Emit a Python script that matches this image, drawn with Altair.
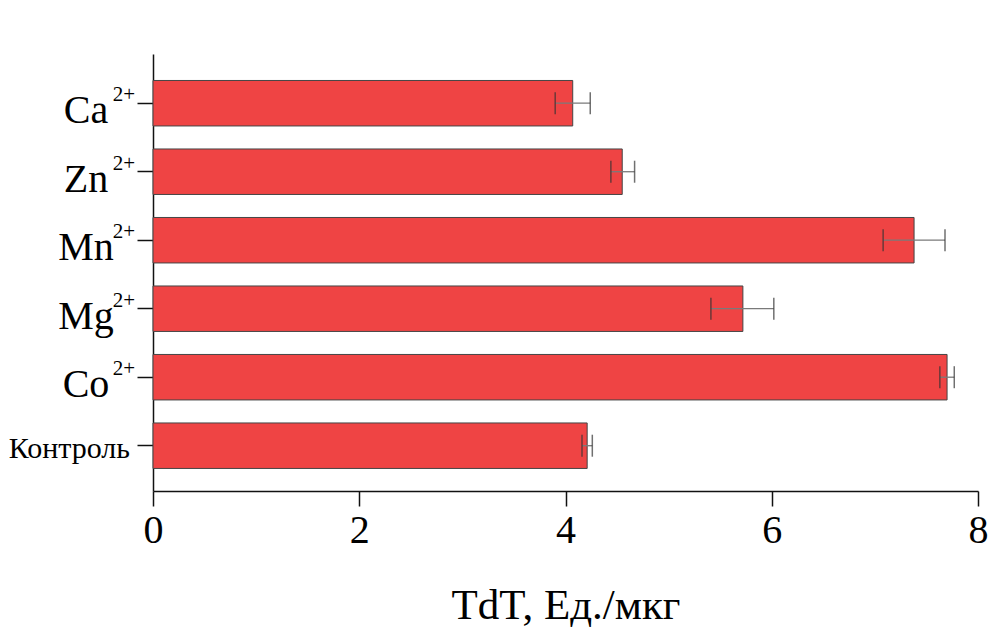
import altair as alt
import pandas as pd

categories = ["Ca", "Zn", "Mn", "Mg", "Co", "Контроль"]
values = [4.07, 4.55, 7.38, 5.72, 7.70, 4.21]
err_lo = [3.90, 4.44, 7.08, 5.41, 7.63, 4.16]
err_hi = [4.24, 4.67, 7.68, 6.02, 7.77, 4.26]
ion_labels = ["Ca", "Zn", "Mn", "Mg", "Co"]
superscripts = ["2+", "2+", "2+", "2+", "2+"]
control_label = ["Контроль"]
x_ticks = [0, 2, 4, 6, 8]

FONT = "Liberation Serif"

df = pd.DataFrame({"cat": categories, "val": values, "lo": err_lo, "hi": err_hi})
ions = pd.DataFrame({"cat": ion_labels, "sup": superscripts})
ctrl = pd.DataFrame({"cat": control_label})

yscale = alt.Scale(domain=categories, paddingInner=0.336, paddingOuter=0.358, align=0.54)
xscale = alt.Scale(domain=[0, 8], nice=False)

y_axis = alt.Axis(labels=False, title=None, ticks=True, tickSize=16, tickWidth=1.5,
                  tickColor="#111", domainColor="#111", domainWidth=1.5)
x_axis = alt.Axis(values=x_ticks, format="d", title="TdT, Ед./мкг", tickSize=15, tickWidth=1.5,
                  tickColor="#111", domainColor="#111", domainWidth=1.5,
                  labelFont=FONT, labelFontSize=40, labelColor="#000", labelPadding=4,
                  labelFlush=False,
                  titleFont=FONT, titleFontSize=43, titleFontWeight="normal",
                  titleColor="#000", titlePadding=34, grid=False)

bars = alt.Chart(df).mark_bar(color="#EF4444", stroke="#444", strokeWidth=1).encode(
    x=alt.X("val:Q", scale=xscale, axis=x_axis),
    y=alt.Y("cat:N", scale=yscale, axis=y_axis, sort=categories),
)

whisker = alt.Chart(df).mark_rule(color="#7a7a7a", strokeWidth=1.3).encode(
    x=alt.X("lo:Q", scale=xscale), x2="hi:Q",
    y=alt.Y("cat:N", scale=yscale, sort=categories),
)

cap_lo = alt.Chart(df).mark_tick(color="#333", thickness=1.5, size=22).encode(
    x=alt.X("lo:Q", scale=xscale),
    y=alt.Y("cat:N", scale=yscale, sort=categories),
)
cap_hi = alt.Chart(df).mark_tick(color="#333", thickness=1.5, size=22).encode(
    x=alt.X("hi:Q", scale=xscale),
    y=alt.Y("cat:N", scale=yscale, sort=categories),
)

base_text = alt.Chart(ions).mark_text(font=FONT, fontSize=40, align="center",
                                      baseline="alphabetic", dy=20, color="#000").encode(
    x=alt.value(-67),
    y=alt.Y("cat:N", scale=yscale, sort=categories),
    text="cat:N",
)
sup_text = alt.Chart(ions).mark_text(font=FONT, fontSize=21, align="right",
                                     baseline="alphabetic", dy=-2, color="#000").encode(
    x=alt.value(-18),
    y=alt.Y("cat:N", scale=yscale, sort=categories),
    text="sup:N",
)
ctrl_text = alt.Chart(ctrl).mark_text(font=FONT, fontSize=30, align="right",
                                      baseline="alphabetic", dy=12, color="#000").encode(
    x=alt.value(-23),
    y=alt.Y("cat:N", scale=yscale, sort=categories),
    text="cat:N",
)

chart = alt.layer(bars, whisker, cap_lo, cap_hi, base_text, sup_text, ctrl_text).properties(
    width=825, height=437,
    autosize=alt.AutoSizeParams(type="none"),
    padding={"left": 145, "top": 46, "right": 10, "bottom": 138},
    background="white",
).configure_view(stroke=None)

chart.save("out.html", embed_options={"renderer": "svg", "actions": False})
